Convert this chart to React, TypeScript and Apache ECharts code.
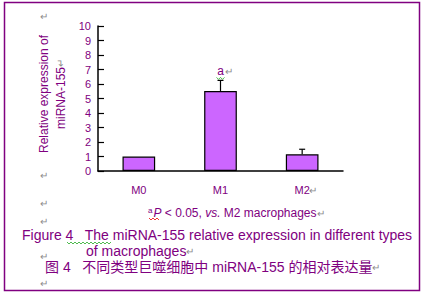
import React, { useEffect, useRef } from "react";
import * as echarts from "echarts";

const categories = ["M0", "M1", "M2"];
const values = [1.0, 5.52, 1.15];
const errUpper = [1.0, 6.25, 1.5];
const sigLabels = ["", "a", ""];
const yTicks = { min: 0, max: 10, interval: 1 };

const PURPLE = "#800080";
const GRAY = "#8c8c8c";
const FONT = "'Liberation Sans', Arial, 'Noto Sans CJK SC', sans-serif";

function wavy(x0: number, x1: number, y: number, step = 2, amp = 1.2) {
  const pts: number[][] = [];
  let up = true;
  for (let x = x0; x <= x1; x += step) {
    pts.push([x, up ? y - amp : y + amp]);
    up = !up;
  }
  return pts;
}

export default function App() {
  const ref = useRef<HTMLDivElement>(null);
  useEffect(() => {
    document.body.style.margin = "0";
    const chart = echarts.init(ref.current!, null, { renderer: "svg" });
    const ret = (x: number, y: number) => ({
      type: "text",
      x,
      y,
      style: { text: "↵", fill: GRAY, font: `10px ${FONT}`, textVerticalAlign: "middle" },
    });
    chart.setOption({
      animation: false,
      backgroundColor: "#fff",
      grid: { left: 98, right: 84, top: 26, bottom: 126 },
      xAxis: {
        type: "category",
        data: categories,
        boundaryGap: true,
        axisLine: { lineStyle: { color: "#000", width: 1.5 } },
        axisTick: { inside: true, length: 4, lineStyle: { color: "#000", width: 1.2 } },
        axisLabel: { color: PURPLE, fontSize: 11, fontFamily: FONT, margin: 13 },
      },
      yAxis: {
        type: "value",
        min: yTicks.min,
        max: yTicks.max,
        interval: yTicks.interval,
        splitLine: { show: false },
        axisLine: { show: true, lineStyle: { color: "#000", width: 1.5 } },
        axisTick: { show: true, inside: true, length: 6, lineStyle: { color: "#000", width: 1.2 } },
        axisLabel: { color: PURPLE, fontSize: 11, fontFamily: FONT, margin: 7 },
      },
      series: [
        {
          type: "bar",
          data: values,
          barWidth: "40%",
          itemStyle: { color: "#CC66FF", borderColor: "#000", borderWidth: 1.2 },
        },
        {
          type: "custom",
          data: categories.map((c, i) => [i, values[i], errUpper[i]]),
          z: 5,
          renderItem: (params: any, api: any) => {
            const i = api.value(0);
            const top = api.coord([i, api.value(1)]);
            const hi = api.coord([i, api.value(2)]);
            const children: any[] = [];
            if (api.value(2) > api.value(1)) {
              children.push({
                type: "line",
                shape: { x1: top[0], y1: top[1], x2: hi[0], y2: hi[1] },
                style: { stroke: "#000", lineWidth: 1.2 },
              });
              children.push({
                type: "line",
                shape: { x1: hi[0] - 3, y1: hi[1], x2: hi[0] + 3, y2: hi[1] },
                style: { stroke: "#000", lineWidth: 1.2 },
              });
            }
            const lbl = sigLabels[i];
            if (lbl) {
              children.push({
                type: "text",
                x: hi[0],
                y: hi[1] - 3,
                style: {
                  text: lbl,
                  fill: PURPLE,
                  font: `12px ${FONT}`,
                  textAlign: "center",
                  textVerticalAlign: "bottom",
                },
              });
              children.push({
                type: "text",
                x: hi[0] + 4,
                y: hi[1] - 9,
                style: { text: "↵", fill: GRAY, font: `10px ${FONT}`, textVerticalAlign: "middle" },
              });
              children.push({
                type: "polyline",
                shape: { points: wavy(hi[0] - 4, hi[0] + 4, hi[1] - 2, 2, 1) },
                style: { stroke: "#22aa22", lineWidth: 0.8, fill: null },
              });
            }
            return { type: "group", children };
          },
        },
      ],
      graphic: [
        {
          type: "rect",
          shape: { x: 4.5, y: 2.5, width: 415, height: 288 },
          style: { fill: null, stroke: PURPLE, lineWidth: 1.5 },
          z: 10,
        },
        {
          type: "text",
          x: 52,
          y: 94,
          rotation: Math.PI / 2,
          style: {
            text: "Relative expression of\nmiRNA-155{r|↵}",
            fill: PURPLE,
            font: `12px ${FONT}`,
            textAlign: "center",
            textVerticalAlign: "middle",
            lineHeight: 17,
            rich: { r: { fill: GRAY, fontSize: 10, fontFamily: FONT } },
          },
        },
        ret(40, 16),
        ret(40, 175),
        ret(40, 203),
        ret(40, 221),
        ret(40, 256),
        ret(40, 283),
        ret(309, 190),
        {
          type: "text",
          x: 148,
          y: 213,
          style: {
            text: "{s|a}{i|P} < 0.05, {i|vs.} M2 macrophages{r|↵}",
            fill: PURPLE,
            font: `12px ${FONT}`,
            textVerticalAlign: "middle",
            rich: {
              s: { fontSize: 8, fill: PURPLE, fontFamily: FONT, verticalAlign: "top", padding: [0, 1, 5, 0] },
              i: { fontStyle: "italic", fontSize: 12, fill: PURPLE, fontFamily: FONT },
              r: { fill: GRAY, fontSize: 10, fontFamily: FONT },
            },
          },
        },
        {
          type: "polyline",
          shape: { points: wavy(149, 159, 219, 2, 1) },
          style: { stroke: "#ee0000", lineWidth: 0.8, fill: null },
        },
        {
          type: "text",
          x: 22,
          y: 235,
          style: {
            text: "Figure 4   The miRNA-155 relative expression in different types",
            fill: PURPLE,
            font: `14px ${FONT}`,
            textVerticalAlign: "middle",
          },
        },
        {
          type: "polyline",
          shape: { points: wavy(67, 112, 243, 2, 1) },
          style: { stroke: "#22aa22", lineWidth: 0.8, fill: null },
        },
        {
          type: "text",
          x: 86,
          y: 251,
          style: {
            text: "of macrophages{r|↵}",
            fill: PURPLE,
            font: `14px ${FONT}`,
            textVerticalAlign: "middle",
            rich: { r: { fill: GRAY, fontSize: 10, fontFamily: FONT } },
          },
        },
        {
          type: "text",
          x: 45,
          y: 267,
          style: {
            text: "图 4   不同类型巨噬细胞中 miRNA-155 的相对表达量{r|↵}",
            fill: PURPLE,
            font: `14px ${FONT}`,
            textVerticalAlign: "middle",
            rich: { r: { fill: GRAY, fontSize: 10, fontFamily: FONT } },
          },
        },
      ],
    });
    return () => chart.dispose();
  }, []);
  return <div ref={ref} style={{ width: 427, height: 297 }} />;
}
